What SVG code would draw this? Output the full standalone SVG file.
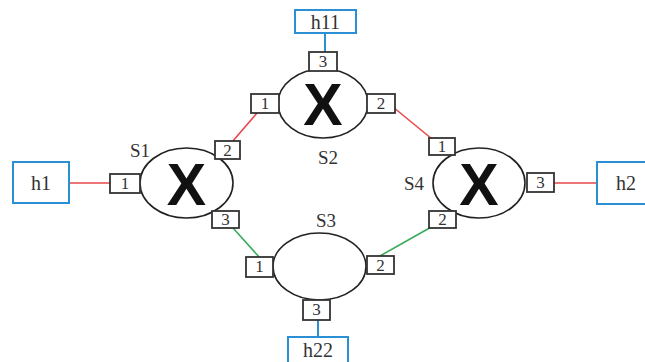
<svg xmlns="http://www.w3.org/2000/svg" width="645" height="362" viewBox="0 0 645 362">
<style>
.host{fill:#fff;stroke:#2b8fd4;stroke-width:2}
.hl{font-family:"Liberation Serif",serif;font-size:20px;fill:#333}
.sw{fill:#fff;stroke:#222;stroke-width:1.6}
.x{font-family:"Liberation Sans",Arial,sans-serif;font-weight:bold;font-size:59px;fill:#111;text-anchor:middle}
.sl{font-family:"Liberation Serif",serif;font-size:19px;fill:#333}
.port{fill:#fff;stroke:#333;stroke-width:1.8}
.pl{font-family:"Liberation Serif",serif;font-size:17px;fill:#333;text-anchor:middle}
.red{stroke:#e8474a;stroke-width:1.6;fill:none}
.green{stroke:#3aaa5c;stroke-width:1.6;fill:none}
.blue{stroke:#2b8fd4;stroke-width:2;fill:none}
</style>
<rect width="645" height="362" fill="#fff"/>
<g id="connectors">
<line class="red" x1="69" y1="183" x2="110" y2="183"/>
<line class="red" x1="232" y1="142" x2="257" y2="113"/>
<line class="red" x1="393" y1="107" x2="432" y2="139"/>
<line class="red" x1="554" y1="183" x2="597" y2="183"/>
<line class="green" x1="233" y1="228" x2="260" y2="258"/>
<line class="green" x1="380" y1="256" x2="433" y2="226"/>
<line class="blue" x1="325" y1="33" x2="325" y2="52"/>
<line class="blue" x1="318" y1="320" x2="318" y2="337"/>
</g>
<g id="h1">
<rect class="host" x="13" y="162" width="56" height="41"/>
<text class="hl" x="41" y="190" text-anchor="middle">h1</text>
</g>
<g id="h11">
<rect class="host" x="295" y="10" width="61" height="23"/>
<text class="hl" x="325.5" y="29" text-anchor="middle">h11</text>
</g>
<g id="h2">
<rect class="host" x="597" y="162" width="60" height="42"/>
<text class="hl" x="616" y="190">h2</text>
</g>
<g id="h22">
<rect class="host" x="288" y="337" width="60" height="30"/>
<text class="hl" x="318" y="357" text-anchor="middle">h22</text>
</g>
<g id="S1">
<ellipse class="sw" cx="186.5" cy="183" rx="46.5" ry="35"/>
<text class="x" x="186.5" y="205">X</text>
<text class="sl" x="130" y="157">S1</text>
<rect class="port" x="110" y="174" width="30" height="19"/>
<text class="pl" x="125" y="189">1</text>
<rect class="port" x="215" y="141" width="25" height="18"/>
<text class="pl" x="227.5" y="156">2</text>
<rect class="port" x="212" y="211" width="27" height="17"/>
<text class="pl" x="225.5" y="225">3</text>
</g>
<g id="S2">
<ellipse class="sw" cx="323" cy="103.5" rx="45" ry="34.5"/>
<text class="x" x="323" y="125">X</text>
<text class="sl" x="318" y="164">S2</text>
<rect class="port" x="309" y="52" width="28" height="19"/>
<text class="pl" x="323" y="67">3</text>
<rect class="port" x="251" y="94" width="28" height="19"/>
<text class="pl" x="265" y="109">1</text>
<rect class="port" x="367" y="94" width="28" height="19"/>
<text class="pl" x="381" y="109">2</text>
</g>
<g id="S3">
<ellipse class="sw" cx="319.5" cy="266.5" rx="46.5" ry="33.5"/>
<text class="sl" x="326" y="227" text-anchor="middle">S3</text>
<rect class="port" x="246" y="257" width="27" height="20"/>
<text class="pl" x="259.5" y="272">1</text>
<rect class="port" x="367" y="256" width="27" height="18"/>
<text class="pl" x="380.5" y="271">2</text>
<rect class="port" x="303" y="300" width="27" height="20"/>
<text class="pl" x="316.5" y="315">3</text>
</g>
<g id="S4">
<ellipse class="sw" cx="479" cy="183" rx="46" ry="35"/>
<text class="x" x="479" y="205">X</text>
<text class="sl" x="404" y="190">S4</text>
<rect class="port" x="429" y="138" width="26" height="17"/>
<text class="pl" x="442" y="152">1</text>
<rect class="port" x="527" y="173" width="27" height="19"/>
<text class="pl" x="540.5" y="188">3</text>
<rect class="port" x="429" y="211" width="27" height="17"/>
<text class="pl" x="442.5" y="225">2</text>
</g>
</svg>
